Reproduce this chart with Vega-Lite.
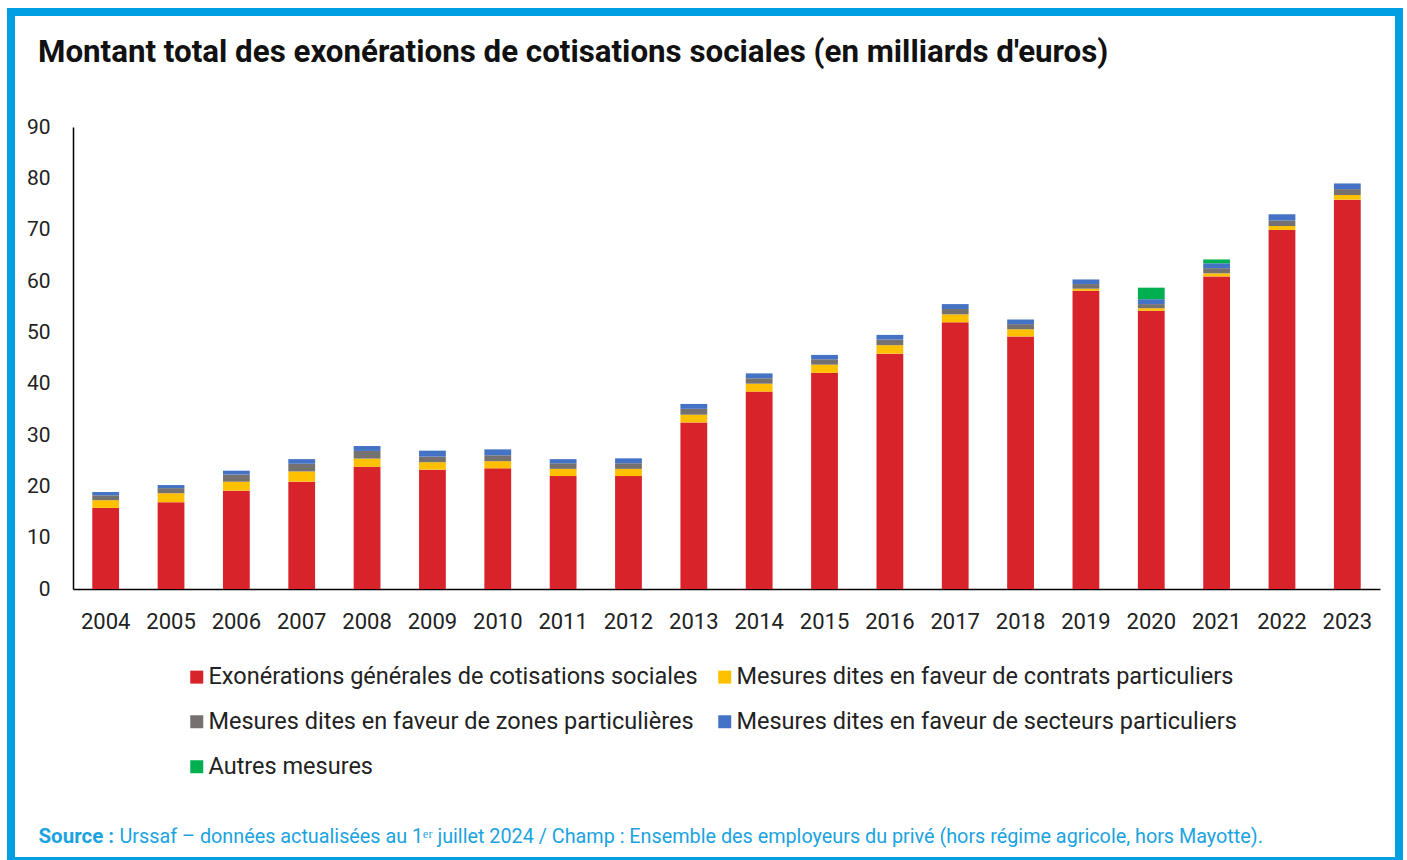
{
  "$schema": "https://vega.github.io/schema/vega-lite/v6.json",
  "width": 1388,
  "height": 849,
  "autosize": "none",
  "padding": {"left": 11, "top": 12, "right": 8, "bottom": 0},
  "background": "white",
  "config": {
    "view": {"stroke": "#009FE3", "strokeWidth": 8, "fill": "white"},
    "font": "Roboto"
  },
  "title": {
    "text": "Montant total des exonérations de cotisations sociales (en milliards d'euros)",
    "anchor": "start",
    "frame": "group",
    "fontSize": 31.3,
    "fontWeight": "bold",
    "color": "#111111",
    "baseline": "alphabetic",
    "offset": 0,
    "dx": 27,
    "dy": 81
  },
  "data": {
    "values": [
      {"year": "2004", "cat": "Exonérations générales de cotisations sociales", "k": 1, "value": 15.8},
      {"year": "2004", "cat": "Mesures dites en faveur de contrats particuliers", "k": 2, "value": 1.5},
      {"year": "2004", "cat": "Mesures dites en faveur de zones particulières", "k": 3, "value": 0.95},
      {"year": "2004", "cat": "Mesures dites en faveur de secteurs particuliers", "k": 4, "value": 0.65},
      {"year": "2005", "cat": "Exonérations générales de cotisations sociales", "k": 1, "value": 16.9},
      {"year": "2005", "cat": "Mesures dites en faveur de contrats particuliers", "k": 2, "value": 1.75},
      {"year": "2005", "cat": "Mesures dites en faveur de zones particulières", "k": 3, "value": 1.0},
      {"year": "2005", "cat": "Mesures dites en faveur de secteurs particuliers", "k": 4, "value": 0.6},
      {"year": "2006", "cat": "Exonérations générales de cotisations sociales", "k": 1, "value": 19.15},
      {"year": "2006", "cat": "Mesures dites en faveur de contrats particuliers", "k": 2, "value": 1.75},
      {"year": "2006", "cat": "Mesures dites en faveur de zones particulières", "k": 3, "value": 1.4},
      {"year": "2006", "cat": "Mesures dites en faveur de secteurs particuliers", "k": 4, "value": 0.75},
      {"year": "2007", "cat": "Exonérations générales de cotisations sociales", "k": 1, "value": 20.9},
      {"year": "2007", "cat": "Mesures dites en faveur de contrats particuliers", "k": 2, "value": 2.0},
      {"year": "2007", "cat": "Mesures dites en faveur de zones particulières", "k": 3, "value": 1.5},
      {"year": "2007", "cat": "Mesures dites en faveur de secteurs particuliers", "k": 4, "value": 0.9},
      {"year": "2008", "cat": "Exonérations générales de cotisations sociales", "k": 1, "value": 23.8},
      {"year": "2008", "cat": "Mesures dites en faveur de contrats particuliers", "k": 2, "value": 1.6},
      {"year": "2008", "cat": "Mesures dites en faveur de zones particulières", "k": 3, "value": 1.5},
      {"year": "2008", "cat": "Mesures dites en faveur de secteurs particuliers", "k": 4, "value": 0.95},
      {"year": "2009", "cat": "Exonérations générales de cotisations sociales", "k": 1, "value": 23.25},
      {"year": "2009", "cat": "Mesures dites en faveur de contrats particuliers", "k": 2, "value": 1.45},
      {"year": "2009", "cat": "Mesures dites en faveur de zones particulières", "k": 3, "value": 1.1},
      {"year": "2009", "cat": "Mesures dites en faveur de secteurs particuliers", "k": 4, "value": 1.15},
      {"year": "2010", "cat": "Exonérations générales de cotisations sociales", "k": 1, "value": 23.5},
      {"year": "2010", "cat": "Mesures dites en faveur de contrats particuliers", "k": 2, "value": 1.4},
      {"year": "2010", "cat": "Mesures dites en faveur de zones particulières", "k": 3, "value": 1.15},
      {"year": "2010", "cat": "Mesures dites en faveur de secteurs particuliers", "k": 4, "value": 1.15},
      {"year": "2011", "cat": "Exonérations générales de cotisations sociales", "k": 1, "value": 22.0},
      {"year": "2011", "cat": "Mesures dites en faveur de contrats particuliers", "k": 2, "value": 1.4},
      {"year": "2011", "cat": "Mesures dites en faveur de zones particulières", "k": 3, "value": 1.1},
      {"year": "2011", "cat": "Mesures dites en faveur de secteurs particuliers", "k": 4, "value": 0.8},
      {"year": "2012", "cat": "Exonérations générales de cotisations sociales", "k": 1, "value": 22.0},
      {"year": "2012", "cat": "Mesures dites en faveur de contrats particuliers", "k": 2, "value": 1.4},
      {"year": "2012", "cat": "Mesures dites en faveur de zones particulières", "k": 3, "value": 1.1},
      {"year": "2012", "cat": "Mesures dites en faveur de secteurs particuliers", "k": 4, "value": 0.95},
      {"year": "2013", "cat": "Exonérations générales de cotisations sociales", "k": 1, "value": 32.45},
      {"year": "2013", "cat": "Mesures dites en faveur de contrats particuliers", "k": 2, "value": 1.5},
      {"year": "2013", "cat": "Mesures dites en faveur de zones particulières", "k": 3, "value": 1.15},
      {"year": "2013", "cat": "Mesures dites en faveur de secteurs particuliers", "k": 4, "value": 0.95},
      {"year": "2014", "cat": "Exonérations générales de cotisations sociales", "k": 1, "value": 38.45},
      {"year": "2014", "cat": "Mesures dites en faveur de contrats particuliers", "k": 2, "value": 1.55},
      {"year": "2014", "cat": "Mesures dites en faveur de zones particulières", "k": 3, "value": 1.05},
      {"year": "2014", "cat": "Mesures dites en faveur de secteurs particuliers", "k": 4, "value": 0.95},
      {"year": "2015", "cat": "Exonérations générales de cotisations sociales", "k": 1, "value": 42.1},
      {"year": "2015", "cat": "Mesures dites en faveur de contrats particuliers", "k": 2, "value": 1.6},
      {"year": "2015", "cat": "Mesures dites en faveur de zones particulières", "k": 3, "value": 1.05},
      {"year": "2015", "cat": "Mesures dites en faveur de secteurs particuliers", "k": 4, "value": 0.85},
      {"year": "2016", "cat": "Exonérations générales de cotisations sociales", "k": 1, "value": 45.85},
      {"year": "2016", "cat": "Mesures dites en faveur de contrats particuliers", "k": 2, "value": 1.65},
      {"year": "2016", "cat": "Mesures dites en faveur de zones particulières", "k": 3, "value": 1.1},
      {"year": "2016", "cat": "Mesures dites en faveur de secteurs particuliers", "k": 4, "value": 0.9},
      {"year": "2017", "cat": "Exonérations générales de cotisations sociales", "k": 1, "value": 51.95},
      {"year": "2017", "cat": "Mesures dites en faveur de contrats particuliers", "k": 2, "value": 1.55},
      {"year": "2017", "cat": "Mesures dites en faveur de zones particulières", "k": 3, "value": 1.05},
      {"year": "2017", "cat": "Mesures dites en faveur de secteurs particuliers", "k": 4, "value": 0.95},
      {"year": "2018", "cat": "Exonérations générales de cotisations sociales", "k": 1, "value": 49.2},
      {"year": "2018", "cat": "Mesures dites en faveur de contrats particuliers", "k": 2, "value": 1.4},
      {"year": "2018", "cat": "Mesures dites en faveur de zones particulières", "k": 3, "value": 1.0},
      {"year": "2018", "cat": "Mesures dites en faveur de secteurs particuliers", "k": 4, "value": 0.9},
      {"year": "2019", "cat": "Exonérations générales de cotisations sociales", "k": 1, "value": 58.1},
      {"year": "2019", "cat": "Mesures dites en faveur de contrats particuliers", "k": 2, "value": 0.4},
      {"year": "2019", "cat": "Mesures dites en faveur de zones particulières", "k": 3, "value": 0.9},
      {"year": "2019", "cat": "Mesures dites en faveur de secteurs particuliers", "k": 4, "value": 0.9},
      {"year": "2020", "cat": "Exonérations générales de cotisations sociales", "k": 1, "value": 54.2},
      {"year": "2020", "cat": "Mesures dites en faveur de contrats particuliers", "k": 2, "value": 0.5},
      {"year": "2020", "cat": "Mesures dites en faveur de zones particulières", "k": 3, "value": 0.8},
      {"year": "2020", "cat": "Mesures dites en faveur de secteurs particuliers", "k": 4, "value": 0.95},
      {"year": "2020", "cat": "Autres mesures", "k": 5, "value": 2.25},
      {"year": "2021", "cat": "Exonérations générales de cotisations sociales", "k": 1, "value": 60.9},
      {"year": "2021", "cat": "Mesures dites en faveur de contrats particuliers", "k": 2, "value": 0.6},
      {"year": "2021", "cat": "Mesures dites en faveur de zones particulières", "k": 3, "value": 1.0},
      {"year": "2021", "cat": "Mesures dites en faveur de secteurs particuliers", "k": 4, "value": 0.95},
      {"year": "2021", "cat": "Autres mesures", "k": 5, "value": 0.75},
      {"year": "2022", "cat": "Exonérations générales de cotisations sociales", "k": 1, "value": 69.95},
      {"year": "2022", "cat": "Mesures dites en faveur de contrats particuliers", "k": 2, "value": 0.75},
      {"year": "2022", "cat": "Mesures dites en faveur de zones particulières", "k": 3, "value": 1.1},
      {"year": "2022", "cat": "Mesures dites en faveur de secteurs particuliers", "k": 4, "value": 1.2},
      {"year": "2023", "cat": "Exonérations générales de cotisations sociales", "k": 1, "value": 75.85},
      {"year": "2023", "cat": "Mesures dites en faveur de contrats particuliers", "k": 2, "value": 0.9},
      {"year": "2023", "cat": "Mesures dites en faveur de zones particulières", "k": 3, "value": 1.15},
      {"year": "2023", "cat": "Mesures dites en faveur de secteurs particuliers", "k": 4, "value": 1.1}
    ]
  },
  "mark": {"type": "bar"},
  "encoding": {
    "x": {
      "field": "year",
      "type": "ordinal",
      "scale": {"range": [62, 1369], "paddingInner": 0.59, "paddingOuter": 0.295},
      "axis": {
        "title": "Urssaf – données actualisées au 1ᵉʳ juillet 2024 / Champ : Ensemble des employeurs du privé (hors régime agricole, hors Mayotte).",
        "titleX": 108,
        "titleY": 253,
        "titleAlign": "left",
        "titleAnchor": null,
        "titleBaseline": "alphabetic",
        "titleFontSize": 19.8,
        "titleFontWeight": "normal",
        "titleColor": "#1BA3E0",
        "titleLimit": 3000,
        "offset": -272,
        "labelAngle": 0,
        "ticks": false,
        "tickSize": 0,
        "labelPadding": 22,
        "labelFontSize": 22,
        "labelColor": "#222222",
        "domainColor": "#000000",
        "domainWidth": 1.5,
        "grid": false
      }
    },
    "y": {
      "field": "value",
      "type": "quantitative",
      "stack": "zero",
      "scale": {"domain": [0, 90], "range": [577, 115], "nice": false},
      "axis": {
        "title": "Source :",
        "titleX": -35,
        "titleY": 830,
        "titleAngle": 0,
        "titleAlign": "left",
        "titleAnchor": null,
        "titleBaseline": "alphabetic",
        "titleFontSize": 20.5,
        "titleFontWeight": "bold",
        "titleColor": "#1BA3E0",
        "titleLimit": 3000,
        "offset": -62,
        "values": [0, 10, 20, 30, 40, 50, 60, 70, 80, 90],
        "ticks": false,
        "tickSize": 0,
        "labelPadding": 23,
        "labelFontSize": 21,
        "labelColor": "#222222",
        "domainColor": "#000000",
        "domainWidth": 1.5,
        "grid": false
      }
    },
    "color": {
      "field": "cat",
      "type": "nominal",
      "scale": {
        "domain": [
          "Exonérations générales de cotisations sociales",
          "Mesures dites en faveur de contrats particuliers",
          "Mesures dites en faveur de zones particulières",
          "Mesures dites en faveur de secteurs particuliers",
          "Autres mesures"
        ],
        "range": ["#D9232B", "#FFC000", "#767171", "#4472C4", "#00B050"]
      },
      "legend": {
        "orient": "none",
        "direction": "horizontal",
        "legendX": 174,
        "legendY": 653,
        "columns": 2,
        "title": null,
        "symbolType": "square",
        "symbolSize": 169,
        "symbolStrokeWidth": 0,
        "labelFontSize": 23.5,
        "labelColor": "#222222",
        "labelLimit": 1000,
        "labelOffset": 0,
        "columnPadding": 15,
        "rowPadding": 20,
        "padding": 0
      }
    },
    "order": {"field": "k", "type": "quantitative"}
  }
}
